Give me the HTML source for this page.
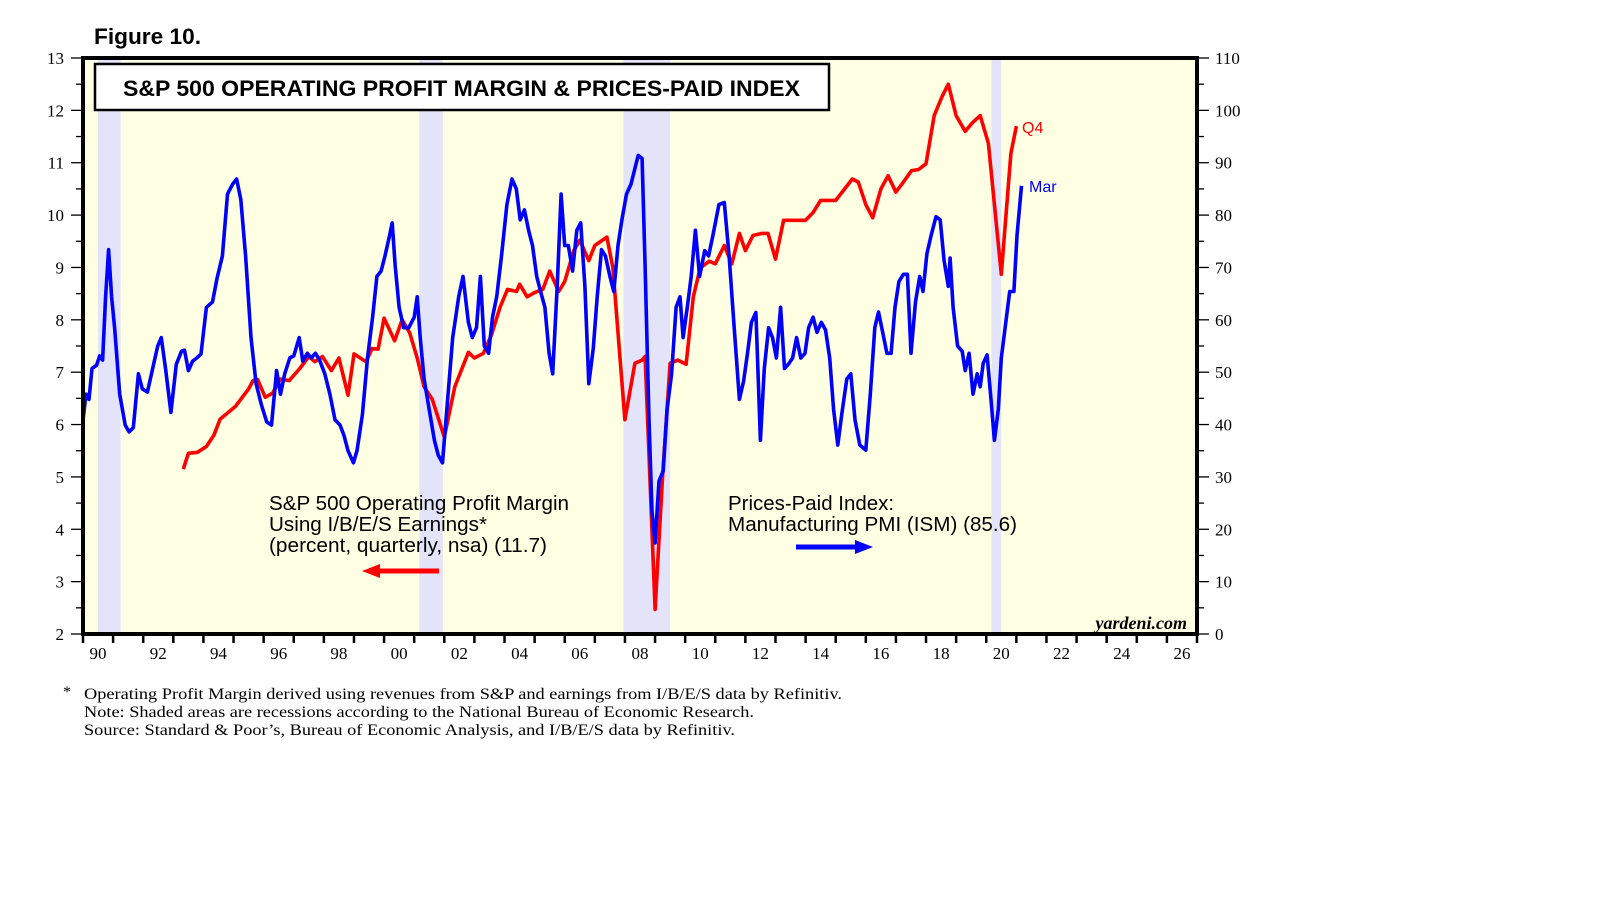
<!DOCTYPE html>
<html><head><meta charset="utf-8"><style>
html,body{margin:0;padding:0;background:#fff;width:1610px;height:910px;overflow:hidden}
svg{display:block}
</style></head><body>
<svg id="chart" width="1610" height="910" viewBox="0 0 1610 910" xmlns="http://www.w3.org/2000/svg" font-family="Liberation Serif, serif">
<text x="94" y="44" font-family="Liberation Sans, sans-serif" font-weight="bold" font-size="22" textLength="107" lengthAdjust="spacingAndGlyphs">Figure 10.</text>
<rect x="83" y="58" width="1114" height="576" fill="#ffffe3"/>
<g id="recessions"></g>
<g id="grid"></g>
<g id="series"></g>
<rect x="83" y="58" width="1114" height="576" fill="none" stroke="#000" stroke-width="4"/>
<rect x="95" y="64" width="734" height="46" fill="#fff" stroke="#000" stroke-width="2.5"/>
<text x="123" y="96" font-family="Liberation Sans, sans-serif" font-weight="bold" font-size="22" textLength="677" lengthAdjust="spacingAndGlyphs">S&amp;P 500 OPERATING PROFIT MARGIN &amp; PRICES-PAID INDEX</text>
<g font-family="Liberation Sans, sans-serif" font-size="20" fill="#000">
<text x="269" y="510" textLength="300" lengthAdjust="spacingAndGlyphs">S&amp;P 500 Operating Profit Margin</text>
<text x="269" y="531" textLength="218" lengthAdjust="spacingAndGlyphs">Using I/B/E/S Earnings*</text>
<text x="269" y="552" textLength="278" lengthAdjust="spacingAndGlyphs">(percent, quarterly, nsa) (11.7)</text>
</g>
<g><line x1="439" y1="571" x2="375" y2="571" stroke="#ff0000" stroke-width="5"/><polygon points="362,571 380,564 380,578" fill="#ff0000"/></g>
<g font-family="Liberation Sans, sans-serif" font-size="20" fill="#000">
<text x="728" y="510" textLength="166" lengthAdjust="spacingAndGlyphs">Prices-Paid Index:</text>
<text x="728" y="531" textLength="289" lengthAdjust="spacingAndGlyphs">Manufacturing PMI (ISM) (85.6)</text>
</g>
<g><line x1="796" y1="547" x2="860" y2="547" stroke="#0000ff" stroke-width="5"/><polygon points="873,547 855,540 855,554" fill="#0000ff"/></g>
<text x="1187" y="629" text-anchor="end" font-style="italic" font-weight="bold" font-size="18">yardeni.com</text>
<text x="1022" y="133" fill="#ff0000" font-family="Liberation Sans, sans-serif" font-size="16">Q4</text>
<text x="1029" y="192" fill="#0000ff" font-family="Liberation Sans, sans-serif" font-size="16">Mar</text>
<g font-size="16" fill="#000">
<text x="63" y="697">*</text>
<text x="84" y="699" textLength="758" lengthAdjust="spacingAndGlyphs">Operating Profit Margin derived using revenues from S&amp;P and earnings from I/B/E/S data by Refinitiv.</text>
<text x="84" y="717" textLength="670" lengthAdjust="spacingAndGlyphs">Note: Shaded areas are recessions according to the National Bureau of Economic Research.</text>
<text x="84" y="735" textLength="651" lengthAdjust="spacingAndGlyphs">Source: Standard &amp; Poor’s, Bureau of Economic Analysis, and I/B/E/S data by Refinitiv.</text>
</g>
</svg>
<script>
const marginYears=[1993.33,1993.5,1993.8,1994.1,1994.35,1994.55,1995.07,1995.5,1995.65,1995.8,1996.05,1996.3,1996.55,1996.85,1997.2,1997.5,1997.7,1997.95,1998.25,1998.5,1998.8,1999.0,1999.4,1999.6,1999.8,2000.0,2000.35,2000.6,2000.85,2001.1,2001.33,2001.6,2002.0,2002.35,2002.8,2003.0,2003.3,2003.57,2003.85,2004.1,2004.4,2004.5,2004.75,2005.0,2005.27,2005.5,2005.8,2006.0,2006.3,2006.5,2006.8,2007.0,2007.4,2007.6,2008.0,2008.33,2008.57,2008.67,2009.0,2009.25,2009.5,2009.76,2010.03,2010.27,2010.5,2010.8,2011.0,2011.3,2011.55,2011.8,2012.0,2012.25,2012.55,2012.75,2013.0,2013.27,2013.5,2013.77,2014.0,2014.25,2014.5,2014.73,2015.0,2015.27,2015.55,2015.75,2016.0,2016.23,2016.5,2016.74,2017.0,2017.25,2017.52,2017.75,2018.0,2018.27,2018.53,2018.74,2019.0,2019.3,2019.55,2019.8,2020.07,2020.5,2020.82,2021.0];
const marginValues=[5.15,5.45,5.47,5.58,5.8,6.1,6.35,6.68,6.84,6.86,6.52,6.6,6.87,6.84,7.07,7.3,7.2,7.3,7.03,7.27,6.56,7.35,7.2,7.45,7.44,8.03,7.6,8.0,7.75,7.27,6.72,6.48,5.76,6.72,7.38,7.27,7.36,7.72,8.24,8.58,8.54,8.68,8.44,8.52,8.58,8.93,8.54,8.73,9.32,9.52,9.13,9.42,9.58,8.99,6.09,7.17,7.23,7.3,2.47,5.02,7.17,7.23,7.15,8.44,8.99,9.12,9.07,9.42,9.07,9.65,9.32,9.61,9.65,9.65,9.16,9.9,9.9,9.9,9.9,10.05,10.28,10.28,10.28,10.48,10.69,10.63,10.2,9.95,10.5,10.75,10.44,10.63,10.85,10.87,10.98,11.9,12.26,12.5,11.9,11.6,11.77,11.9,11.37,8.87,11.18,11.7];
const pricesYears=[1990.0,1990.1,1990.2,1990.3,1990.45,1990.55,1990.65,1990.75,1990.85,1990.95,1991.05,1991.22,1991.4,1991.53,1991.67,1991.84,1991.97,1992.14,1992.3,1992.48,1992.6,1992.75,1992.92,1993.1,1993.27,1993.37,1993.5,1993.64,1993.78,1993.92,1994.1,1994.3,1994.45,1994.63,1994.8,1994.97,1995.1,1995.24,1995.4,1995.58,1995.75,1995.92,1996.1,1996.26,1996.43,1996.56,1996.7,1996.87,1997.0,1997.18,1997.3,1997.45,1997.58,1997.72,1997.86,1998.03,1998.2,1998.37,1998.54,1998.67,1998.8,1998.98,1999.1,1999.28,1999.45,1999.62,1999.76,1999.9,2000.03,2000.17,2000.27,2000.37,2000.5,2000.65,2000.82,2001.0,2001.1,2001.2,2001.33,2001.5,2001.67,2001.8,2001.94,2002.07,2002.28,2002.48,2002.62,2002.8,2002.93,2003.07,2003.2,2003.33,2003.47,2003.6,2003.74,2003.9,2004.08,2004.25,2004.39,2004.52,2004.66,2004.8,2004.93,2005.07,2005.2,2005.34,2005.48,2005.6,2005.75,2005.88,2006.0,2006.12,2006.26,2006.4,2006.53,2006.67,2006.8,2006.95,2007.08,2007.22,2007.35,2007.5,2007.63,2007.77,2007.9,2008.05,2008.2,2008.33,2008.44,2008.57,2008.67,2008.8,2008.9,2009.0,2009.13,2009.27,2009.4,2009.55,2009.7,2009.83,2009.93,2010.07,2010.2,2010.34,2010.48,2010.65,2010.78,2010.92,2011.12,2011.3,2011.46,2011.63,2011.8,2011.94,2012.07,2012.2,2012.35,2012.5,2012.63,2012.77,2012.9,2013.03,2013.17,2013.3,2013.44,2013.57,2013.7,2013.84,2013.98,2014.1,2014.25,2014.38,2014.52,2014.66,2014.8,2014.93,2015.07,2015.2,2015.37,2015.5,2015.64,2015.8,2016.0,2016.15,2016.3,2016.42,2016.56,2016.7,2016.84,2016.97,2017.1,2017.25,2017.38,2017.5,2017.65,2017.79,2017.9,2018.03,2018.17,2018.33,2018.47,2018.6,2018.74,2018.8,2018.9,2019.05,2019.2,2019.3,2019.43,2019.56,2019.7,2019.8,2019.9,2020.03,2020.17,2020.27,2020.4,2020.5,2020.65,2020.78,2020.92,2021.02,2021.17];
const pricesValues=[40.9,45.8,44.8,50.7,51.3,53.1,52.3,64.4,73.4,64.4,58.5,45.8,39.9,38.6,39.4,49.7,46.8,46.2,50.3,55.0,56.6,50.3,42.3,51.5,54.0,54.2,50.3,52.1,52.7,53.5,62.4,63.4,67.9,72.2,84.0,85.9,86.9,83.0,72.2,56.6,47.8,43.9,40.5,39.9,50.3,45.8,49.7,52.7,53.1,56.6,52.1,53.6,52.7,53.6,52.3,49.7,45.8,40.9,39.9,37.9,35.0,32.7,35.0,41.9,52.7,60.5,68.3,69.3,72.2,75.8,78.5,70.3,62.4,58.5,58.5,60.5,64.4,56.6,48.7,42.9,37.0,34.1,32.7,41.9,56.6,64.4,68.3,59.5,56.6,58.5,68.3,55.0,53.6,60.5,64.4,72.2,82.0,86.9,85.0,79.1,81.0,77.1,74.2,68.3,65.4,62.4,53.6,49.7,66.4,84.0,74.2,74.2,69.3,77.1,78.5,66.4,47.8,54.6,64.4,73.4,72.2,68.3,65.4,74.2,79.1,84.0,85.9,88.9,91.4,90.8,70.3,40.9,23.3,17.4,29.2,31.1,42.9,49.7,62.4,64.4,56.6,62.4,68.3,77.1,68.3,73.2,72.2,76.1,82.0,82.4,72.2,58.5,44.8,48.3,53.6,59.5,61.4,37.0,50.7,58.5,56.6,52.7,62.4,50.7,51.6,52.7,56.6,52.7,53.6,58.5,60.5,57.6,59.5,58.1,52.7,42.9,36.1,41.9,48.7,49.7,40.9,36.1,35.1,45.8,58.5,61.5,57.6,53.6,53.6,62.4,67.3,68.7,68.7,53.6,63.4,68.3,65.4,72.6,76.1,79.7,79.1,71.3,66.4,71.8,62.4,55.0,54.0,50.3,53.6,45.8,49.7,47.2,51.7,53.3,43.9,37.0,42.9,52.7,59.5,65.4,65.4,76.1,85.6];
const recessionStarts=[1990.5,2001.17,2007.95,2020.17];
const recessionEnds=[1991.25,2001.95,2009.5,2020.5];
const leftTicks=[2,3,4,5,6,7,8,9,10,11,12,13];
const rightTicks=[0,10,20,30,40,50,60,70,80,90,100,110];
const yearLabels=["90","92","94","96","98","00","02","04","06","08","10","12","14","16","18","20","22","24","26"];

const NS="http://www.w3.org/2000/svg";
const X0=83,X1=1197,Y0=58,Y1=634,YR0=1990,YR1=2027;
const xs=y=>X0+(y-YR0)/(YR1-YR0)*(X1-X0);
const yl=v=>Y1-(v-2)/11*(Y1-Y0);
const yr=v=>Y1-v/110*(Y1-Y0);
function mk(tag,attrs,parent){const e=document.createElementNS(NS,tag);for(const k in attrs)e.setAttribute(k,attrs[k]);parent.appendChild(e);return e;}
const rec=document.getElementById('recessions');
recessionStarts.forEach((s,i)=>{
  const r=mk('rect',{x:xs(s),y:Y0,width:xs(recessionEnds[i])-xs(s),height:Y1-Y0,fill:'#e3e3fa'},rec);
  
  
});
const g=document.getElementById('grid');
for(let v=2;v<=13.001;v+=0.5){
  const major=Math.abs(v-Math.round(v))<0.01;
  const t=mk('line',{x1:X0-(major?12:7),x2:X0,y1:yl(v),y2:yl(v),stroke:'#000','stroke-width':1.3},g);
  
  
}
leftTicks.forEach(v=>{
  const t=mk('text',{x:64,y:yl(v)+6,'text-anchor':'end','font-size':17},g);t.textContent=v;
  
  
});
for(let v=0;v<=110;v+=5){
  const major=v%10===0;
  const t=mk('line',{x1:X1,x2:X1+(major?12:7),y1:yr(v),y2:yr(v),stroke:'#000','stroke-width':1.3},g);
  
  
}
rightTicks.forEach(v=>{
  const t=mk('text',{x:1215,y:yr(v)+6,'font-size':17},g);t.textContent=v;
  
  
});
for(let y=YR0;y<=YR1;y++){
  const t=mk('line',{x1:xs(y),x2:xs(y),y1:Y1,y2:Y1+9,stroke:'#000','stroke-width':2.5},g);
  
  
}
yearLabels.forEach((l,i)=>{
  const t=mk('text',{x:xs(YR0+2*i+0.5),y:659,'text-anchor':'middle','font-size':17},g);t.textContent=l;
  
  
});
const s=document.getElementById('series');
const rp=marginYears.map((y,i)=>xs(y).toFixed(1)+','+yl(marginValues[i]).toFixed(1)).join(' ');
const red=mk('polyline',{points:rp,fill:'none',stroke:'#ff0000','stroke-width':3.6,'stroke-linejoin':'round'},s);


const bp=pricesYears.map((y,i)=>xs(y).toFixed(1)+','+yr(pricesValues[i]).toFixed(1)).join(' ');
const blue=mk('polyline',{points:bp,fill:'none',stroke:'#0000ff','stroke-width':3.6,'stroke-linejoin':'round'},s);


</script>
</body></html>
